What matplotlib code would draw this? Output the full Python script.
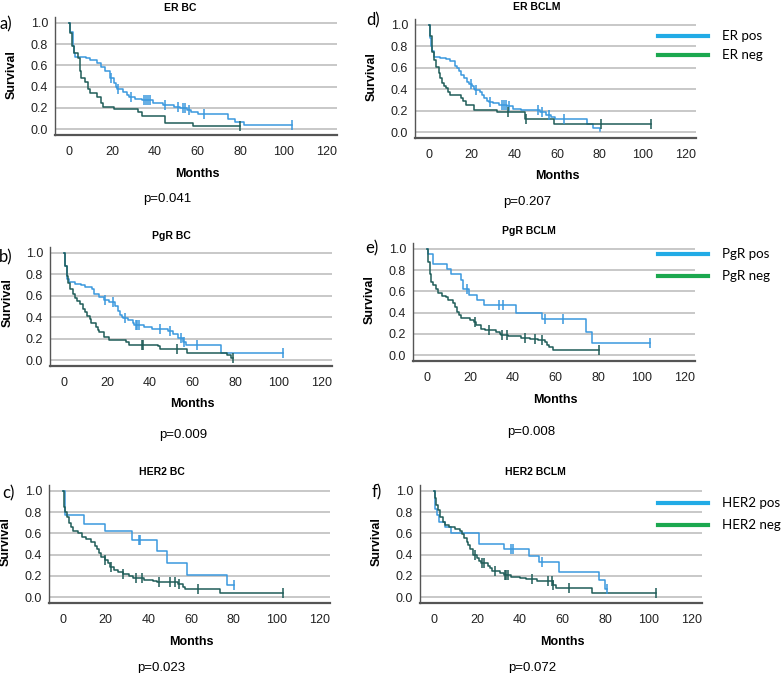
import matplotlib
matplotlib.use("Agg")
import matplotlib.pyplot as plt
from matplotlib.lines import Line2D
import numpy as np

W, H = 784, 673

# ---- data (months, survival) ----
er_bc_pos_t = [0, 0.5, 2, 2.5, 3, 8, 10, 13, 15, 17, 19, 21, 22, 22.5, 25, 27, 28, 31, 34, 39, 44, 49, 52, 55, 57, 60, 74, 77.5, 81.5]
er_bc_pos_s = [1.0, 0.91, 0.78, 0.72, 0.68, 0.67, 0.65, 0.62, 0.58, 0.55, 0.48, 0.43, 0.40, 0.38, 0.35, 0.32, 0.30, 0.28, 0.27, 0.25, 0.23, 0.21, 0.20, 0.18, 0.16, 0.14, 0.10, 0.07, 0.04]
er_bc_pos_c = [19.5, 23, 29, 35, 36, 37, 38, 45, 51, 53, 54, 56, 63, 104]
er_bc_neg_t = [0, 0.5, 1.5, 2.5, 4, 5, 5.5, 7.5, 9, 10, 13, 15, 16, 21, 32, 34, 45, 58]
er_bc_neg_s = [1.0, 0.90, 0.78, 0.72, 0.67, 0.55, 0.48, 0.44, 0.38, 0.34, 0.30, 0.25, 0.21, 0.19, 0.16, 0.12, 0.06, 0.03]
er_bc_neg_c = [80]

er_bclm_pos_t = [0, 0.3, 1, 1.5, 2.5, 5, 8, 10, 12, 13, 14, 15, 16.5, 18, 19, 20, 21, 21.5, 24, 25, 26, 27, 28, 30, 33, 36.5, 39.5, 43, 52, 55, 57, 59, 74, 77, 80]
er_bclm_pos_s = [1.0, 0.88, 0.80, 0.76, 0.70, 0.69, 0.68, 0.66, 0.62, 0.60, 0.57, 0.53, 0.50, 0.47, 0.45, 0.43, 0.40, 0.39, 0.37, 0.35, 0.32, 0.29, 0.28, 0.27, 0.25, 0.24, 0.22, 0.21, 0.19, 0.16, 0.14, 0.12, 0.08, 0.04, 0.01]
er_bclm_pos_c = [19.5, 22, 28.5, 34, 35, 36, 37.5, 51, 53, 56, 63]
er_bclm_neg_t = [0, 0.3, 1.5, 2.5, 3.5, 4.5, 5, 6, 7, 8, 9, 10, 15, 16, 17.5, 21, 32, 45, 58.5]
er_bclm_neg_s = [1.0, 0.90, 0.75, 0.67, 0.61, 0.55, 0.50, 0.46, 0.43, 0.41, 0.37, 0.35, 0.32, 0.29, 0.25, 0.21, 0.19, 0.12, 0.08]
er_bclm_neg_c = [37, 45.5, 80.5, 104]

pgr_bc_pos_t = [0, 0.5, 1.5, 2.5, 5, 8, 10, 13, 14, 16.5, 18.5, 21, 24, 25, 26, 27, 27.5, 30, 32, 32.5, 37.5, 41, 48.5, 51, 53.3, 55.7, 57, 73.2]
pgr_bc_pos_s = [1.0, 0.88, 0.76, 0.73, 0.71, 0.70, 0.68, 0.66, 0.62, 0.59, 0.56, 0.54, 0.50, 0.46, 0.42, 0.40, 0.39, 0.37, 0.35, 0.33, 0.31, 0.29, 0.27, 0.24, 0.21, 0.17, 0.14, 0.07]
pgr_bc_pos_c = [19.3, 22.7, 28.3, 33.4, 34.2, 34.9, 44.9, 49.5, 54.8, 56, 62.2, 102]
pgr_bc_neg_t = [0, 0.5, 1.2, 2, 3, 4, 5, 6, 7.3, 8.9, 10, 10.7, 12, 12.7, 15, 16, 16.5, 18.8, 21, 28.8, 30.3, 43.8, 44.6, 57.6, 76, 78]
pgr_bc_neg_s = [1.0, 0.88, 0.78, 0.72, 0.66, 0.62, 0.58, 0.55, 0.52, 0.48, 0.45, 0.41, 0.38, 0.35, 0.31, 0.28, 0.26, 0.22, 0.19, 0.17, 0.14, 0.13, 0.10, 0.07, 0.05, 0.02]
pgr_bc_neg_c = [36.2, 36.8, 52.5, 79]

pgr_bclm_pos_t = [0, 0.5, 2.6, 9.2, 11.2, 15.9, 16.7, 19.5, 23.2, 26.8, 41.6, 53.7, 74.3, 77]
pgr_bclm_pos_s = [1.0, 0.95, 0.86, 0.81, 0.76, 0.71, 0.62, 0.57, 0.52, 0.47, 0.40, 0.34, 0.22, 0.11]
pgr_bclm_pos_c = [18.5, 33.8, 35.7, 55.1, 63.4, 104]
pgr_bclm_neg_t = [0, 0.5, 1.5, 2, 3, 4, 5, 7, 9, 10, 12, 13, 14, 15, 15.9, 20, 22, 23, 25.2, 27, 32, 34, 34.5, 38, 44, 48, 52, 55, 56, 57, 58.7]
pgr_bclm_neg_s = [1.0, 0.88, 0.76, 0.69, 0.66, 0.62, 0.58, 0.56, 0.55, 0.52, 0.49, 0.45, 0.41, 0.38, 0.35, 0.33, 0.31, 0.28, 0.25, 0.24, 0.22, 0.20, 0.19, 0.18, 0.16, 0.15, 0.14, 0.12, 0.10, 0.08, 0.05]
pgr_bclm_neg_c = [22.6, 28.8, 34.9, 37.4, 45.5, 50.5, 53.6, 80.2]

her2_bc_pos_t = [0, 1, 10, 19.9, 32.4, 44, 48.8, 58.3, 76.6]
her2_bc_pos_s = [1.0, 0.77, 0.69, 0.62, 0.54, 0.43, 0.32, 0.21, 0.11]
her2_bc_pos_c = [35.5, 36.3, 80]
her2_bc_neg_t = [0, 0.3, 1, 2, 3, 4, 4.8, 7, 9, 11, 13, 15, 15.9, 17, 18, 19.5, 21, 22, 24, 26, 28, 31, 33, 38, 42, 44, 54, 56, 57, 73.5]
her2_bc_neg_s = [1.0, 0.85, 0.80, 0.75, 0.70, 0.66, 0.62, 0.60, 0.57, 0.55, 0.52, 0.48, 0.45, 0.42, 0.38, 0.35, 0.32, 0.28, 0.26, 0.24, 0.22, 0.20, 0.18, 0.16, 0.15, 0.14, 0.12, 0.10, 0.08, 0.04]
her2_bc_neg_c = [19.8, 22.5, 28.2, 34.4, 37.2, 44.9, 50.2, 52.6, 54.5, 63, 103]

her2_bclm_pos_t = [0, 0.5, 1.3, 2.3, 5, 8, 21.2, 32.8, 44.4, 49.2, 58.4, 77, 80]
her2_bclm_pos_s = [1.0, 0.83, 0.77, 0.71, 0.66, 0.60, 0.50, 0.45, 0.39, 0.33, 0.24, 0.16, 0.08]
her2_bclm_pos_c = [36, 36.8, 50.3, 80.5]
her2_bclm_neg_t = [0, 0.3, 1, 2, 3, 4, 5, 7, 10, 12, 13, 14, 15.2, 16, 17, 18, 20, 21, 22, 25, 26, 27, 31, 32.5, 36, 40, 43, 48, 55.5, 57, 73.5]
her2_bclm_neg_s = [1.0, 0.93, 0.87, 0.82, 0.75, 0.71, 0.68, 0.66, 0.64, 0.62, 0.59, 0.56, 0.52, 0.49, 0.45, 0.40, 0.37, 0.34, 0.32, 0.29, 0.27, 0.25, 0.23, 0.21, 0.19, 0.18, 0.17, 0.15, 0.11, 0.09, 0.04]
her2_bclm_neg_c = [19.3, 22.4, 23.5, 28.6, 33.2, 33.8, 34.4, 45.7, 53.4, 55, 55.7, 63.2, 103.4]

titles = ["ER BC", "ER BCLM", "PgR BC", "PgR BCLM", "HER2 BC", "HER2 BCLM"]
letters = ["a)", "d)", "b)", "e)", "c)", "f)"]
pvalues = ["p=0.041", "p=0.207", "p=0.009", "p=0.008", "p=0.023", "p=0.072"]
legend_labels = [["ER pos", "ER neg"], ["PgR pos", "PgR neg"], ["HER2 pos", "HER2 neg"]]
xticks = [0, 20, 40, 60, 80, 100, 120]
yticks = [0.0, 0.2, 0.4, 0.6, 0.8, 1.0]

curves = [
    [(er_bc_pos_t, er_bc_pos_s, er_bc_pos_c), (er_bc_neg_t, er_bc_neg_s, er_bc_neg_c)],
    [(er_bclm_pos_t, er_bclm_pos_s, er_bclm_pos_c), (er_bclm_neg_t, er_bclm_neg_s, er_bclm_neg_c)],
    [(pgr_bc_pos_t, pgr_bc_pos_s, pgr_bc_pos_c), (pgr_bc_neg_t, pgr_bc_neg_s, pgr_bc_neg_c)],
    [(pgr_bclm_pos_t, pgr_bclm_pos_s, pgr_bclm_pos_c), (pgr_bclm_neg_t, pgr_bclm_neg_s, pgr_bclm_neg_c)],
    [(her2_bc_pos_t, her2_bc_pos_s, her2_bc_pos_c), (her2_bc_neg_t, her2_bc_neg_s, her2_bc_neg_c)],
    [(her2_bclm_pos_t, her2_bclm_pos_s, her2_bclm_pos_c), (her2_bclm_neg_t, her2_bclm_neg_s, her2_bclm_neg_c)],
]

# layout in pixels: axes box (left, top, right, bottom)
boxes = [(55, 17, 337, 135), (415, 19, 696, 138),
         (50, 247, 332, 366), (413, 243, 695, 361),
         (49, 485, 330, 603), (420, 485, 702, 603)]
title_pos = [(180, 8), (537, 7), (171, 236), (529, 231), (162, 472), (535, 472)]
letter_pos = [(6, 24), (373, 20), (6, 257), (372, 248), (8, 493), (377, 492)]
ylab_pos = [(12, 75), (372, 77), (8, 303), (370, 300), (6, 542), (377, 542)]
months_pos = [(197, 174), (557, 176), (192, 404), (555, 400), (191, 642), (562, 642)]
p_pos = [(167, 199), (527, 202), (183, 435), (531, 432), (161, 668), (532, 668)]
legend_pos = [(36, 55), (254, 276), (503, 525)]

BLUE = "#3a98de"
TEAL = "#1f5d58"
LEG_BLUE = "#22abe6"
LEG_GREEN = "#1ca84f"

plt.rcParams["font.family"] = ["Liberation Sans", "DejaVu Sans"]


def fx(x):
    return x / W


def fy(y):
    return 1 - y / H


fig = plt.figure(figsize=(W / 100, H / 100), dpi=100)

for i in range(6):
    l, t, r, b = boxes[i]
    ax = fig.add_axes([fx(l), fy(b), (r - l) / W, (b - t) / H])
    ax.set_xlim(-6.5, 125)
    ax.set_ylim(-0.055, 1.055)
    for y in yticks:
        ax.axhline(y, color="#b9b9b9", lw=1.1, zorder=1)
    for (tt, ss, cc), col in zip(curves[i], [BLUE, TEAL]):
        tt = np.array(tt)
        ss = np.array(ss)
        end = max(tt[-1], cc[-1]) if len(cc) else tt[-1]
        ax.step(np.append(tt, end), np.append(ss, ss[-1]), where="post", color=col, lw=1.1, zorder=3)
        cy = ss[np.searchsorted(tt, cc, side="right") - 1]
        ax.plot(cc, cy, ls="none", marker="|", ms=7, mew=1.1, color=col, zorder=4)
    ax.spines["top"].set_visible(False)
    ax.spines["right"].set_visible(False)
    ax.spines["left"].set_color("#555555")
    ax.spines["left"].set_linewidth(1.0)
    ax.spines["bottom"].set_color("#555555")
    ax.spines["bottom"].set_linewidth(1.6)
    ax.set_xticks(xticks)
    ax.set_yticks(yticks)
    ax.set_yticklabels(["%.1f" % v for v in yticks])
    ax.tick_params(length=0, labelsize=9, colors="#222222")
    ax.tick_params(axis="x", pad=8)
    ax.tick_params(axis="y", pad=5)

    fig.text(fx(title_pos[i][0]), fy(title_pos[i][1]), titles[i], ha="center", va="center",
             fontsize=7.5, fontweight="bold")
    fig.text(fx(letter_pos[i][0]), fy(letter_pos[i][1]), letters[i], ha="center", va="center",
             fontsize=12, family=["Lato", "DejaVu Sans"])
    fig.text(fx(ylab_pos[i][0]), fy(ylab_pos[i][1]), "Survival", ha="center", va="center",
             rotation=90, fontsize=9, fontweight="bold")
    fig.text(fx(months_pos[i][0]), fy(months_pos[i][1]), "Months", ha="center", va="center",
             fontsize=9, fontweight="bold")
    fig.text(fx(p_pos[i][0]), fy(p_pos[i][1]), pvalues[i], ha="center", va="center", fontsize=9.5)

# legends at the right of the BCLM panels
for k in range(3):
    for y, col, lab in zip(legend_pos[k], [LEG_BLUE, LEG_GREEN], legend_labels[k]):
        fig.add_artist(Line2D([fx(658), fx(708)], [fy(y), fy(y)], color=col, lw=3))
        fig.text(fx(722), fy(y), lab, ha="left", va="center", fontsize=9.6,
                 family=["Lato", "DejaVu Sans"])

fig.savefig("out.png", dpi=100)
